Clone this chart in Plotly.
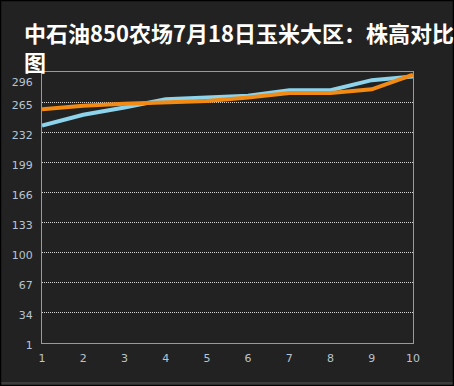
import plotly.graph_objects as go

x_vals = [1, 2, 3, 4, 5, 6, 7, 8, 9, 10]
series_blue = [240, 252, 260, 269, 271, 273, 279, 279, 290, 294]
series_orange = [258, 262, 264, 265, 267, 271, 276, 276, 280, 296]
y_ticks = [1, 34, 67, 100, 133, 166, 199, 232, 265]
y_top_tick = [296]
title_text = "中石油850农场7月18日玉米大区：株高对比<br>图"

W, H = 454, 386
L, R, T, B = 42, 41, 72, 43

fig = go.Figure()
fig.add_trace(go.Scatter(x=x_vals, y=series_blue, mode="lines",
                         line=dict(color="#8dd3ec", width=4), showlegend=False))
fig.add_trace(go.Scatter(x=x_vals, y=series_orange, mode="lines",
                         line=dict(color="#f28a14", width=4), showlegend=False))
fig.add_trace(go.Scatter(x=[x_vals[0]], y=[y_top_tick[0]], yaxis="y2", mode="markers",
                         marker=dict(opacity=0), showlegend=False, hoverinfo="skip"))

tickfont = dict(family="DejaVu Sans", size=11, color="#b8c4d0")
yr = [1, 299]

fig.update_layout(
    width=W, height=H,
    margin=dict(l=L, r=R, t=T, b=B, autoexpand=False),
    paper_bgcolor="#222222",
    plot_bgcolor="#222222",
    title=dict(text=title_text, x=24 / W, xanchor="left", xref="container",
               y=1 - 42 / H, yanchor="top", yref="container", automargin=False,
               font=dict(family="Noto Sans CJK SC", size=22, color="#ffffff", weight="bold")),
    xaxis=dict(range=[1, 10], tickvals=x_vals, ticktext=[str(v) for v in x_vals],
               showgrid=False, zeroline=False, automargin=False,
               showline=True, linecolor="#9a9a9a", linewidth=1, mirror=True,
               ticks="outside", ticklen=5, tickcolor="rgba(0,0,0,0)",
               tickfont=tickfont),
    yaxis=dict(range=yr, tickvals=y_ticks, ticktext=[str(v) for v in y_ticks],
               showgrid=True, gridcolor="#d8d8d8", gridwidth=1, griddash="1px,1px",
               zeroline=False, automargin=False, ticklabelshift=2,
               showline=True, linecolor="#9a9a9a", linewidth=1, mirror=True,
               ticks="outside", ticklen=6, tickcolor="rgba(0,0,0,0)",
               tickfont=tickfont),
    yaxis2=dict(range=yr, overlaying="y", side="left", tickvals=y_top_tick,
                ticktext=[str(v) for v in y_top_tick], showgrid=False, zeroline=False,
                automargin=False, ticklabelshift=7,
                showline=False, ticks="outside", ticklen=6, tickcolor="rgba(0,0,0,0)",
                tickfont=tickfont),
    shapes=[
        dict(type="rect", xref="paper", yref="paper",
             x0=(0 - L) / (W - L - R), x1=(W - L) / (W - L - R),
             y0=-(B) / (H - T - B), y1=-(B - 4) / (H - T - B),
             fillcolor="#3c3c3c", line=dict(width=0), layer="below"),
        dict(type="rect", xref="paper", yref="paper",
             x0=(0.5 - L) / (W - L - R), x1=(W - 0.5 - L) / (W - L - R),
             y0=-(B - 0.5) / (H - T - B), y1=(H - B - 0.5) / (H - T - B),
             fillcolor="rgba(0,0,0,0)", line=dict(width=1.5, color="#000000"), layer="above"),
    ],
)

fig.write_html("out.html", config={"displayModeBar": False},
               post_script="document.body.style.margin='0';document.body.style.padding='0';")
